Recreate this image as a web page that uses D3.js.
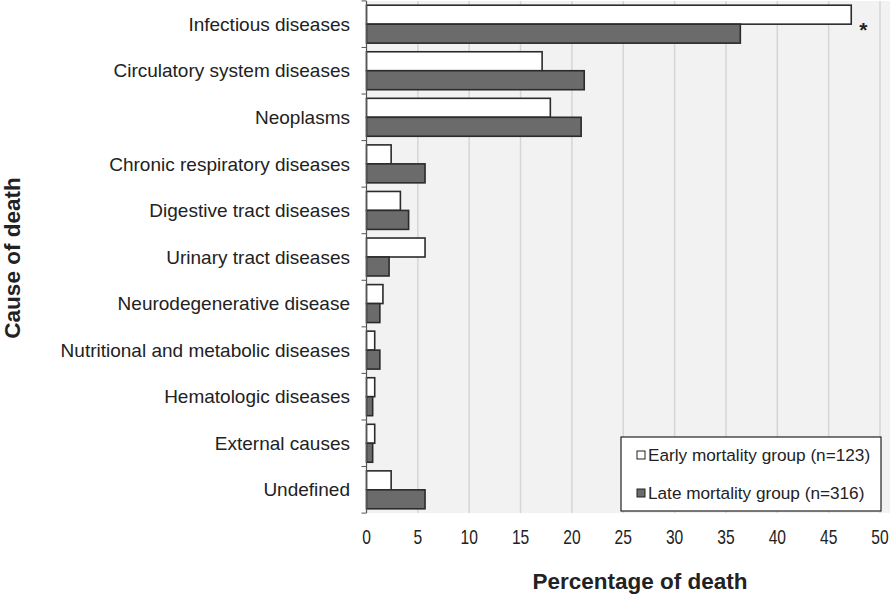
<!DOCTYPE html>
<html>
<head>
<meta charset="utf-8">
<script src="https://cdn.jsdelivr.net/npm/d3@7"></script>
<style>
  html, body { margin: 0; padding: 0; background: #fff; }
  svg { display: block; }
  text { font-family: "Liberation Sans", Arial, sans-serif; fill: #222; }
</style>
</head>
<body>
<svg id="chart" width="894" height="598"></svg>
<script>
const categories = [
  "Infectious diseases",
  "Circulatory system diseases",
  "Neoplasms",
  "Chronic respiratory diseases",
  "Digestive tract diseases",
  "Urinary tract diseases",
  "Neurodegenerative disease",
  "Nutritional and metabolic diseases",
  "Hematologic diseases",
  "External causes",
  "Undefined"
];
const earlyValues = [47.2, 17.1, 17.9, 2.4, 3.3, 5.7, 1.6, 0.8, 0.8, 0.8, 2.4];
const lateValues  = [36.4, 21.2, 20.9, 5.7, 4.1, 2.2, 1.3, 1.3, 0.6, 0.6, 5.7];
const seriesNames = ["Early mortality group (n=123)", "Late mortality group (n=316)"];
const xTicks = [0, 5, 10, 15, 20, 25, 30, 35, 40, 45, 50];
const significant = ["Infectious diseases"];

(function () {
const svg = d3.select("#chart");
const pLeft = 366.5, pRight = 880, pTop = 1, pBottom = 513;

const x = d3.scaleLinear().domain([0, 50]).range([pLeft, pRight]);
const y = d3.scaleBand().domain(categories).range([pTop, pBottom]).paddingInner(0.185).paddingOuter(0.09);
const sub = d3.scaleBand().domain(["early", "late"]).range([0, y.bandwidth()]).padding(0);

// plot background
svg.append("rect").attr("x", pLeft).attr("y", pTop).attr("width", 890 - pLeft).attr("height", pBottom - pTop)
  .attr("fill", "#f2f2f2");

// gridlines
svg.append("g").selectAll("line").data(xTicks.filter(d => d > 0)).join("line")
  .attr("x1", d => x(d)).attr("x2", d => x(d)).attr("y1", pTop).attr("y2", pBottom)
  .attr("stroke", "#d6d6d6").attr("stroke-width", 1.5);

// bars
const rows = categories.map((c, i) => ({ c, early: earlyValues[i], late: lateValues[i] }));
const g = svg.append("g");
rows.forEach(r => {
  g.append("rect").attr("x", x(0)).attr("y", y(r.c) + sub("early"))
    .attr("width", x(r.early) - x(0)).attr("height", sub.bandwidth())
    .attr("fill", "#ffffff").attr("stroke", "#2b2b2b").attr("stroke-width", 1.6);
  g.append("rect").attr("x", x(0)).attr("y", y(r.c) + sub("late"))
    .attr("width", x(r.late) - x(0)).attr("height", sub.bandwidth())
    .attr("fill", "#6b6b6b").attr("stroke", "#2b2b2b").attr("stroke-width", 1.6);
});

// significance asterisk
significant.forEach(c => {
  const i = categories.indexOf(c);
  svg.append("text").attr("x", x(earlyValues[i]) + 12).attr("y", y(c) + y.bandwidth() / 2 + 13)
    .attr("text-anchor", "middle").attr("font-size", 21).attr("font-weight", "bold").attr("fill", "#333")
    .text("*");
});

// left axis line with boundary ticks
svg.append("line").attr("x1", pLeft).attr("x2", pLeft).attr("y1", pTop).attr("y2", pBottom)
  .attr("stroke", "#555").attr("stroke-width", 1.2);
const step = y.step();
const first = y(categories[0]) - step * y.paddingInner() / 2;
const bounds = d3.range(categories.length + 1).map(i => first + i * step);
svg.append("g").selectAll("line").data(bounds).join("line")
  .attr("x1", pLeft - 5).attr("x2", pLeft).attr("y1", d => d).attr("y2", d => d)
  .attr("stroke", "#555").attr("stroke-width", 1);

// category labels
svg.append("g").selectAll("text").data(categories).join("text")
  .attr("x", 350).attr("y", d => y(d) + y.bandwidth() / 2)
  .attr("dy", "0.35em").attr("text-anchor", "end").attr("font-size", 19)
  .text(d => d);

// x tick labels
svg.append("g").selectAll("text").data(xTicks).join("text")
  .attr("transform", d => `translate(${x(d)},544) scale(0.78,1)`)
  .attr("text-anchor", "middle").attr("font-size", 20)
  .text(d => d);

// axis titles
svg.append("text").attr("x", 640).attr("y", 589).attr("text-anchor", "middle")
  .attr("font-size", 22.5).attr("font-weight", "bold").text("Percentage of death");
svg.append("text").attr("transform", "translate(20,258) rotate(-90)").attr("text-anchor", "middle")
  .attr("font-size", 22.5).attr("font-weight", "bold").text("Cause of death");

// legend
const lg = svg.append("g");
lg.append("rect").attr("x", 621).attr("y", 437).attr("width", 260).attr("height", 74)
  .attr("fill", "#fff").attr("stroke", "#222").attr("stroke-width", 1.2);
const fills = ["#ffffff", "#6b6b6b"];
seriesNames.forEach((n, i) => {
  const cy = 455 + i * 38;
  lg.append("rect").attr("x", 637).attr("y", cy - 4).attr("width", 8).attr("height", 8)
    .attr("fill", fills[i]).attr("stroke", "#222").attr("stroke-width", 1);
  lg.append("text").attr("x", 648).attr("y", cy).attr("dy", "0.35em").attr("font-size", 17.2).text(n);
});
})();
</script>
</body>
</html>
